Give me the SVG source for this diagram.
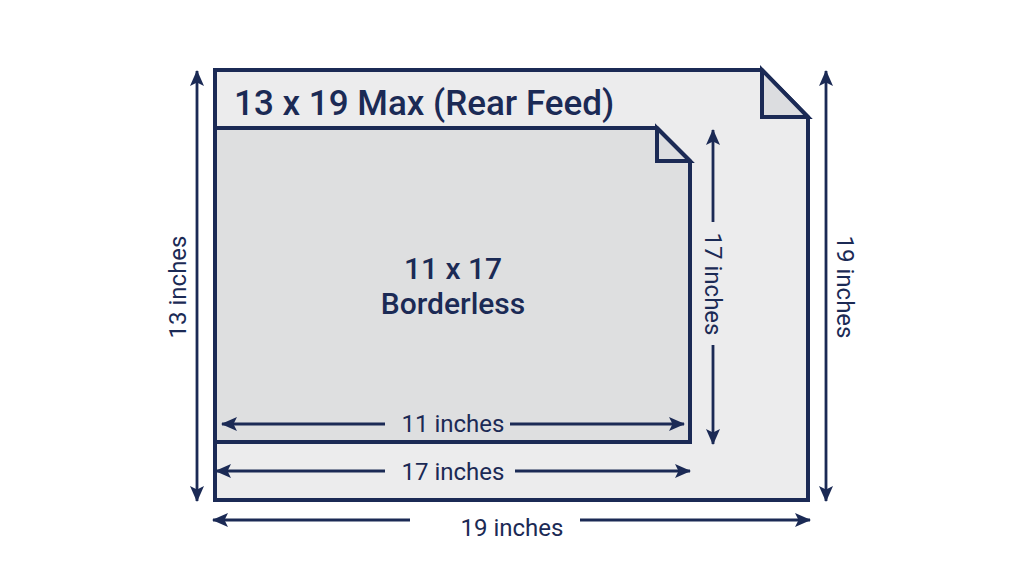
<svg xmlns="http://www.w3.org/2000/svg" width="1024" height="572" viewBox="0 0 1024 572">
<style>
.sheet{stroke:#1b2a55;stroke-width:4;stroke-linejoin:miter}
.fold{fill:#dcdde0;stroke:#1b2a55;stroke-width:4}
.dim{stroke:#1b2a55;stroke-width:2.8;fill:none;marker-start:url(#ah);marker-end:url(#ah)}
.half{stroke:#1b2a55;stroke-width:2.8;fill:none;marker-end:url(#ah)}
text{font-family:Roboto,"Liberation Sans",sans-serif;fill:#1b2a55}
.lbl{font-size:24px;text-anchor:middle}
</style>
<defs>
<marker id="ah" viewBox="0 0 16 14" refX="15" refY="7" markerWidth="16" markerHeight="14" markerUnits="userSpaceOnUse" orient="auto-start-reverse">
<path d="M0,0 L16,7 L0,14 L3.5,7 Z" fill="#1b2a55"/>
</marker>
</defs>
<rect width="1024" height="572" fill="#ffffff"/>
<g id="outer-sheet">
<path class="sheet" fill="#ececed" d="M215,70 H762 L808,117 V500 H215 Z"/>
<path class="fold" d="M762,70 V117 H808 Z"/>
<text x="234" y="115" font-size="35" font-weight="500">13 x 19 Max (Rear Feed)</text>
</g>
<g id="inner-sheet">
<path class="sheet" fill="#dedfe0" d="M215,128 H657 L690,161 V442 H215 Z"/>
<path class="fold" d="M657,128 V161 H690 Z"/>
<text x="453" y="279" font-size="30" font-weight="500" text-anchor="middle">11 x 17</text>
<text x="453" y="314" font-size="30" font-weight="500" text-anchor="middle">Borderless</text>
</g>
<g id="connectors">
<line class="dim" x1="197" y1="71" x2="197" y2="501"/>
<line class="dim" x1="826" y1="71" x2="826" y2="501"/>
<line class="half" x1="713" y1="222" x2="713" y2="130"/>
<line class="half" x1="713" y1="345" x2="713" y2="444"/>
<line class="half" x1="385" y1="424" x2="222" y2="424"/>
<line class="half" x1="510" y1="424" x2="684" y2="424"/>
<line class="half" x1="385" y1="471" x2="216" y2="471"/>
<line class="half" x1="515" y1="471" x2="690" y2="471"/>
<line class="half" x1="410" y1="520" x2="213" y2="520"/>
<line class="half" x1="580" y1="520" x2="810" y2="520"/>
</g>
<g id="labels">
<text class="lbl" transform="translate(186,287) rotate(-90)">13 inches</text>
<text class="lbl" transform="translate(837,287) rotate(90)">19 inches</text>
<text class="lbl" transform="translate(705,284) rotate(90)">17 inches</text>
<text class="lbl" x="453" y="432">11 inches</text>
<text class="lbl" x="453" y="480">17 inches</text>
<text class="lbl" x="512" y="536">19 inches</text>
</g>
</svg>
